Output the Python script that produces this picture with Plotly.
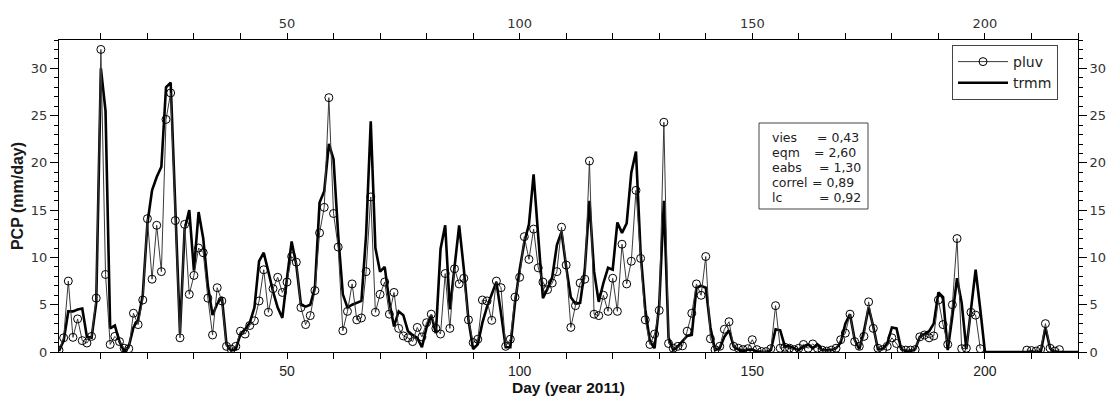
import plotly.graph_objects as go

# ---------------- data ----------------
days = list(range(1, 221))

pluv = [
    0.2, 1.5, 7.5, 1.55, 3.5, 1.2, 0.95, 1.65, 5.7, 32.0,
    8.2, 0.8, 1.65, 1.1, 0.4, 0.35, 4.1, 2.9, 5.5, 14.1,
    7.7, 13.4, 8.5, 24.6, 27.4, 13.9, 1.5, 13.5, 6.1, 8.1,
    11.0, 10.5, 5.7, 1.8, 6.8, 5.4, 0.6, 0.3, 0.6, 2.2,
    1.9, 2.8, 3.3, 5.4, 8.7, 4.2, 6.7, 7.9, 6.3, 7.4,
    10.1, 9.5, 4.7, 2.9, 3.85, 6.5, 12.6, 15.3, 26.9, 14.65,
    11.1, 2.25, 4.3, 7.2, 3.4, 3.6, 8.5, 16.4, 4.2, 6.1,
    7.4, 4.0, 6.3, 2.5, 1.7, 1.5, 1.1, 2.6, 1.6, 3.1,
    4.0, 2.5, 1.9, 8.3, 2.5, 8.8, 7.2, 7.8, 3.4, 1.0,
    1.35, 5.5, 5.4, 3.35, 7.5, 6.8, 0.6, 1.35, 5.8, 7.9,
    12.2, 9.8, 13.0, 8.9, 7.4, 6.6, 7.3, 8.5, 13.2, 9.2,
    2.6, 4.9, 7.3, 7.7, 20.2, 4.0, 3.85, 6.0, 4.3, 7.8,
    4.3, 11.4, 7.2, 9.6, 17.1, 9.9, 3.4, 0.8, 1.9, 4.4,
    24.3, 0.9, 0.4, 0.6, 0.65, 2.2, 4.1, 7.2, 6.0, 10.1,
    1.4, 0.25, 0.6, 2.4, 3.2, 0.6, 0.4, 0.25, 0.35, 1.3,
    0.25, 0.05, 0.05, 0.35, 4.9, 0.4, 0.5, 0.4, 0.25, 0.4,
    0.8, 0.4, 0.85, 0.4, 0.2, 0.1, 0.2, 0.4, 1.3, 2.0,
    4.0, 1.1, 0.6, 1.65, 5.3, 2.5, 0.4, 0.25, 0.6, 1.5,
    0.9, 0.25, 0.2, 0.2, 0.25, 1.6, 1.8, 1.5, 1.7, 5.5,
    2.9, 0.8, 5.0, 12.0, 0.35, 0.4, 4.2, 3.9, 0.35, None,
    None, None, None, None, None, None, None, None, 0.2, 0.15,
    0.1, 0.3, 3.0, 0.4, 0.1, 0.25, None, None, None, None,
]

trmm = [
    0.1, 1.2, 4.3, 4.3, 4.5, 4.6, 1.6, 1.5, 5.2, 30.0,
    25.5, 2.5, 2.8, 1.1, 0.05, 0.6, 2.6, 3.4, 6.0, 13.6,
    17.1, 18.5, 19.6, 28.0, 28.5, 14.5, 2.0, 13.0, 15.0, 8.6,
    14.8, 12.0, 7.0, 3.9, 5.1, 5.8, 0.8, 0.15, 0.3, 1.9,
    2.4, 3.1, 4.7, 9.6, 10.5, 8.5, 6.4, 4.7, 3.6, 7.8,
    11.7, 9.2, 5.0, 4.8, 5.0, 6.8, 15.8, 17.0, 22.0, 20.4,
    12.4, 6.1, 4.7, 5.0, 5.2, 5.4, 12.4, 24.4, 11.0, 8.5,
    9.0, 5.3, 2.7, 4.3, 3.9, 2.2, 1.8, 1.5, 0.5, 2.6,
    3.9, 2.0, 10.9, 13.4, 4.5, 9.0, 13.4, 8.8, 3.4, 0.3,
    0.8, 3.1, 4.8, 6.1, 7.4, 4.1, 0.5, 0.5, 5.2, 8.7,
    11.6, 13.5, 18.8, 12.2, 5.7, 6.7, 7.9, 11.3, 12.7, 9.0,
    5.8, 5.1, 5.2, 8.7, 16.0, 8.5, 5.3, 7.3, 8.9, 8.7,
    13.7, 12.6, 13.6, 19.0, 21.2, 10.5, 4.5, 1.1, 0.4, 5.0,
    16.0, 1.5, 0.2, 0.6, 1.2, 1.7, 1.8, 6.8, 7.0, 6.8,
    2.6, 0.2, 0.4, 1.6, 2.3, 0.6, 0.25, 0.1, 0.25, 0.25,
    0.05, 0.0, 0.0, 0.2, 2.4, 2.3, 0.6, 0.6, 0.4, 0.2,
    0.6, 0.8, 0.4, 0.8, 0.2, 0.2, 0.2, 0.4, 1.0, 3.0,
    4.0, 1.3, 0.3, 2.2, 4.7, 2.7, 0.3, 0.3, 0.9, 2.6,
    2.5, 0.3, 0.1, 0.1, 0.3, 1.6, 1.9, 2.2, 3.0, 6.3,
    5.8, 0.2, 3.8, 7.8, 5.2, 0.3, 4.5, 8.7, 4.5, 0.0,
    0.0, 0.0, 0.0, 0.0, 0.0, 0.0, 0.0, 0.0, 0.0, 0.0,
    0.0, 0.0, 2.6, 0.4, 0.0, 0.0, 0.0, 0.0, 0.0, 0.0,
]

x_tick_vals = [50, 100, 150, 200]
y_tick_vals = [0, 5, 10, 15, 20, 25, 30]

stats_labels = ["vies", "eqm", "eabs", "correl", "lc"]
stats_values = ["= 0,43", "= 2,60", "= 1,30", "= 0,89", "= 0,92"]

# ---------------- layout geometry (pixels) ----------------
W, H = 1113, 407
L, R, T, B = 59, 35, 40, 55
PW, PH = W - L - R, H - T - B


def px(x):
    return (x - L) / PW


def py(y):
    return (H - B - y) / PH


tick_font = dict(family="DejaVu Sans", size=13, color="#333333")
bottom_font = dict(family="Liberation Sans, Arial, sans-serif", size=14, color="#222222")

fig = go.Figure()

fig.add_trace(go.Scatter(
    x=days, y=trmm, name="trmm", mode="lines",
    line=dict(color="black", width=2.6),
    hoverinfo="skip",
))
fig.add_trace(go.Scatter(
    x=days, y=pluv, name="pluv", mode="lines+markers",
    line=dict(color="#3a3a3a", width=1),
    marker=dict(symbol="circle-open", size=8, color="black", line=dict(width=1)),
    connectgaps=False,
    hoverinfo="skip",
))
# invisible trace to carry the top/right mirror axes
fig.add_trace(go.Scatter(
    x=days, y=trmm, xaxis="x2", yaxis="y2", mode="lines",
    line=dict(width=0, color="rgba(0,0,0,0)"), showlegend=False, hoverinfo="skip",
))

common_x = dict(
    range=[1, 220], tickmode="array", tickvals=x_tick_vals,
    ticks="outside", ticklen=6, tickwidth=1, tickcolor="black",
    showline=True, linecolor="black", linewidth=1,
    showgrid=False, zeroline=False, automargin=False,
    minor=dict(tickmode="linear", tick0=0, dtick=10, ticks="outside",
               ticklen=6, tickwidth=1, tickcolor="black", showgrid=False),
)
common_y = dict(
    range=[0, 33], tickmode="array", tickvals=y_tick_vals,
    ticks="outside", ticklen=8, tickwidth=1, tickcolor="black",
    showline=True, linecolor="black", linewidth=1,
    showgrid=False, zeroline=False, automargin=False,
    minor=dict(tickmode="linear", tick0=0, dtick=1, ticks="outside",
               ticklen=4, tickwidth=1, tickcolor="black", showgrid=False),
)

fig.update_layout(
    width=W, height=H,
    margin=dict(l=L, r=R, t=T, b=B, pad=0),
    paper_bgcolor="white", plot_bgcolor="white",
    xaxis=dict(**common_x, tickfont=bottom_font,
               title=dict(text="<b>Day (year 2011)</b>", standoff=4,
                          font=dict(family="Liberation Sans, Arial, sans-serif",
                                    size=15.5, color="#111111"))),
    yaxis=dict(**common_y, tickfont=tick_font,
               title=dict(text="<b>PCP (mm/day)</b>", standoff=3,
                          font=dict(family="Liberation Sans, Arial, sans-serif",
                                    size=16, color="#1a1a1a"))),
    xaxis2=dict(**common_x, overlaying="x", side="top", matches="x", tickfont=tick_font),
    yaxis2=dict(**common_y, overlaying="y", side="right", matches="y", tickfont=tick_font),
    showlegend=True,
    legend=dict(
        x=px(1058), y=py(45), xanchor="right", yanchor="top",
        bgcolor="white", bordercolor="#444444", borderwidth=1,
        font=dict(family="DejaVu Sans", size=14, color="#222222"),
        traceorder="reversed", itemwidth=50,
    ),
)

# statistics box
fig.add_shape(type="rect", xref="paper", yref="paper",
              x0=px(759), x1=px(868), y0=py(209), y1=py(123),
              line=dict(color="#444444", width=1), fillcolor="white", layer="above")

row_y = [137, 152, 167, 182, 197]
eq_x = [815, 812, 817, 810, 817]
stat_font = dict(family="DejaVu Sans", size=12.5, color="#222222")
for lab, val, yy, ex in zip(stats_labels, stats_values, row_y, eq_x):
    fig.add_annotation(text=lab, xref="paper", yref="paper", x=px(770), y=py(yy),
                       xanchor="left", yanchor="middle", showarrow=False, font=stat_font)
    fig.add_annotation(text=val, xref="paper", yref="paper", x=px(ex), y=py(yy),
                       xanchor="left", yanchor="middle", showarrow=False, font=stat_font)

fig.write_html("out.html", config={"displayModeBar": False},
               post_script="document.body.style.margin='0';document.body.style.overflow='hidden';")
